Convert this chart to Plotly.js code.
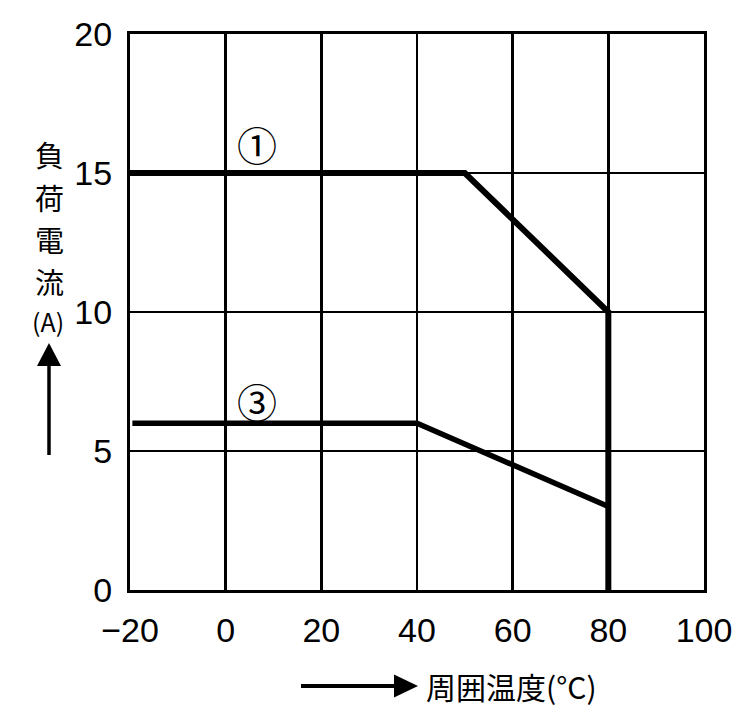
<!DOCTYPE html>
<html>
<head>
<meta charset="utf-8">
<script src="https://cdn.plot.ly/plotly-3.0.1.min.js"></script>
<style>html,body{margin:0;padding:0;background:#fff;}</style>
</head>
<body>
<div id="chart" style="width:754px;height:728px;"></div>
<script>
// Data
const temp1 = [-20, 50, 80, 80];
const current1 = [15, 15, 10, 0];
const temp3 = [-19.5, 40, 80];
const current3 = [6, 6, 3];
const xTicks = [-20, 0, 20, 40, 60, 80, 100];
const yTicks = [0, 5, 10, 15, 20];
const yTitleChars = ['負', '荷', '電', '流'];
const yUnit = '(A)';
const xTitle = '周囲温度(°C)';
const seriesLabels = ['①', '③'];

const L = 130, R = 704, T = 34, B = 590;
const px = x => (x - L) / (R - L);
const py = y => (B - y) / (B - T);

const cjk = '"Noto Sans CJK JP", "Noto Sans", sans-serif';
const num = '"Liberation Sans", Arial, sans-serif';

const traces = [
  {x: temp1, y: current1, mode: 'lines', line: {color: '#000', width: 6}, hoverinfo: 'skip'},
  {x: temp3, y: current3, mode: 'lines', line: {color: '#000', width: 5.5}, hoverinfo: 'skip'}
];

const annotations = [];
const yCharPos = [154, 197, 239, 281];
yTitleChars.forEach((c, i) => {
  annotations.push({xref: 'paper', yref: 'paper', x: px(49), y: py(yCharPos[i]), text: c, showarrow: false,
    xanchor: 'center', yanchor: 'middle', font: {family: cjk, size: 29, color: '#000'}});
});
annotations.push({xref: 'paper', yref: 'paper', x: px(48), y: py(321), text: yUnit, showarrow: false,
  xanchor: 'center', yanchor: 'middle', font: {family: cjk, size: 25, color: '#000'}});
annotations.push({xref: 'paper', yref: 'paper', x: px(424), y: py(686), text: xTitle, showarrow: false,
  xanchor: 'left', yanchor: 'middle', font: {family: cjk, size: 30, color: '#000'}});
annotations.push({xref: 'x', yref: 'paper', x: 6.5, y: py(144), text: seriesLabels[0], showarrow: false,
  xanchor: 'center', yanchor: 'middle', font: {family: cjk, size: 40, color: '#000'}});
annotations.push({xref: 'x', yref: 'paper', x: 6.5, y: py(401), text: seriesLabels[1], showarrow: false,
  xanchor: 'center', yanchor: 'middle', font: {family: cjk, size: 40, color: '#000'}});

const shapes = [
  {type: 'line', xref: 'paper', yref: 'paper', x0: px(49), x1: px(49), y0: py(455), y1: py(362), line: {color: '#000', width: 3.5}},
  {type: 'path', xref: 'paper', yref: 'paper',
    path: `M ${px(49)} ${py(343)} L ${px(37)} ${py(366)} L ${px(61)} ${py(366)} Z`,
    fillcolor: '#000', line: {color: '#000', width: 0}},
  {type: 'line', xref: 'paper', yref: 'paper', x0: px(301), x1: px(400), y0: py(686), y1: py(686), line: {color: '#000', width: 4}},
  {type: 'path', xref: 'paper', yref: 'paper',
    path: `M ${px(418)} ${py(686)} L ${px(394)} ${py(674.5)} L ${px(394)} ${py(697.5)} Z`,
    fillcolor: '#000', line: {color: '#000', width: 0}}
];

const layout = {
  width: 754, height: 728,
  margin: {l: L, r: 754 - R, t: T, b: 728 - B, pad: 0},
  paper_bgcolor: '#fff', plot_bgcolor: '#fff',
  showlegend: false,
  xaxis: {range: [-20, 100], tickvals: xTicks, ticks: '', showgrid: true, gridcolor: '#000', gridwidth: 2.8,
    showline: true, linecolor: '#000', linewidth: 3, mirror: true, zeroline: false,
    tickfont: {family: num, size: 34, color: '#000'}, ticklabelstandoff: 8},
  yaxis: {range: [0, 20], tickvals: yTicks, ticks: '', showgrid: true, gridcolor: '#000', gridwidth: 2.8,
    showline: true, linecolor: '#000', linewidth: 3, mirror: true, zeroline: false,
    tickfont: {family: num, size: 34, color: '#000'}, ticklabelstandoff: 8},
  annotations: annotations,
  shapes: shapes
};

Plotly.newPlot('chart', traces, layout, {staticPlot: true, displayModeBar: false});
</script>
</body>
</html>
